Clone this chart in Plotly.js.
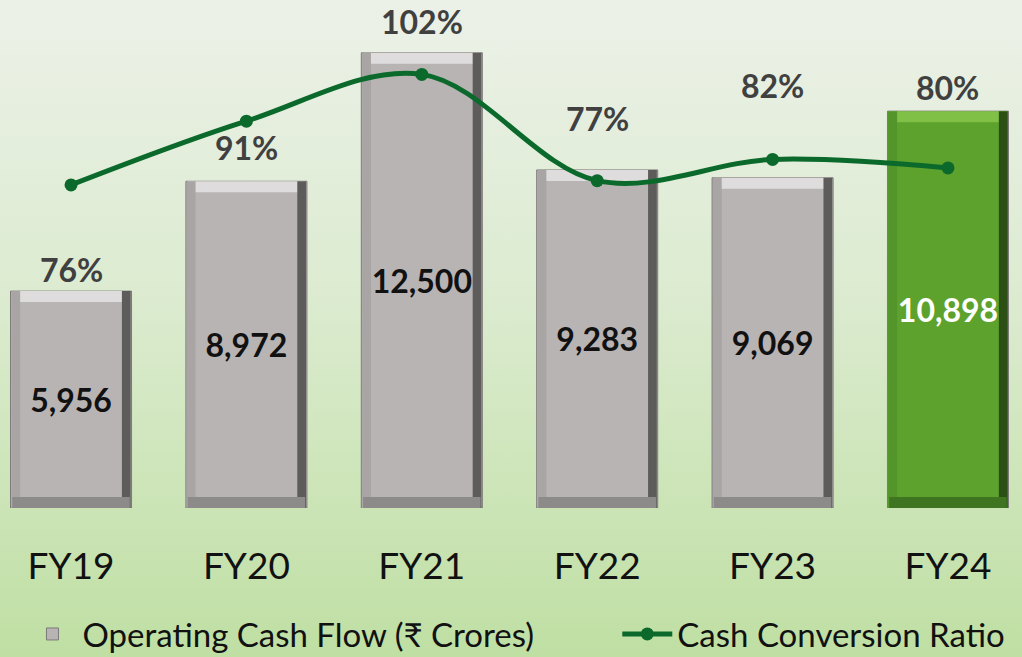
<!DOCTYPE html>
<html>
<head>
<meta charset="utf-8">
<script src="https://cdn.plot.ly/plotly-3.0.1.min.js"></script>
<style>
  html, body { margin:0; padding:0; width:1022px; height:657px; overflow:hidden;
    background: linear-gradient(to bottom, #ecf1e8 0%, #dcebd0 45%, #bfdfa3 100%); }
  #chart { width:1022px; height:657px; }
</style>
</head>
<body>
<div id="chart"></div>
<script>
// ---- data ----
const years = ["FY19", "FY20", "FY21", "FY22", "FY23", "FY24"];
const ocf = [5956, 8972, 12500, 9283, 9069, 10898];
const ocfLabels = ["5,956", "8,972", "12,500", "9,283", "9,069", "10,898"];
const ccr = [76, 91, 102, 77, 82, 80];
const ccrLabels = ["76%", "91%", "102%", "77%", "82%", "80%"];

// ---- styles ----
const faceColors = ["#b8b4b4","#b8b4b4","#b8b4b4","#b8b4b4","#b8b4b4","#5da22c"];
const topColors  = ["#dedcdc","#dedcdc","#dedcdc","#dedcdc","#dedcdc","#80c046"];
const leftColors = ["#a9a5a5","#a9a5a5","#a9a5a5","#a9a5a5","#a9a5a5","#53952a"];
const rightColors= ["#5e5b5b","#5e5b5b","#5e5b5b","#5e5b5b","#5e5b5b","#2b4f14"];
const botColors  = ["#8d8a8a","#8d8a8a","#8d8a8a","#8d8a8a","#8d8a8a","#3f7520"];
const textColors = ["#111111","#111111","#111111","#111111","#111111","#ffffff"];
const labelShift = [22, 34, 31, 51, 92, 24]; // px above bar top
const barW = 0.69;
const yMax = 13950, y2Max = 119.5;
const plotH = 508;
const bev = 11 / plotH * yMax;   // bevel thickness in data units
const sideW = 0.05;

const bevelTop = ocf.map(v => bev);
const bevelTopBase = ocf.map(v => v - bev);
const zeros = ocf.map(v => 0);

const traces = [
  { type:'bar', x:years, y:ocf, width:barW, name:'Operating Cash Flow (₹ Crores)',
    marker:{color:faceColors, line:{color:'#7d7a7a', width:1}},
    text:ocfLabels, textposition:'inside', insidetextanchor:'middle', textangle:0,
    constraintext:'none',
    textfont:{family:'Lato, "Open Sans", sans-serif', size:32, color:textColors, weight:'bold'},
    hoverinfo:'skip', showlegend:true, legend:'legend' },
  { type:'bar', x:years, y:bevelTop, base:bevelTopBase, width:barW-0.02,
    marker:{color:topColors}, hoverinfo:'skip', showlegend:false },
  { type:'bar', x:years, y:ocf, base:zeros, width:sideW, offset:-barW/2+0.005,
    marker:{color:leftColors}, hoverinfo:'skip', showlegend:false },
  { type:'bar', x:years, y:ocf, base:zeros, width:sideW, offset:barW/2-sideW-0.005,
    marker:{color:rightColors}, hoverinfo:'skip', showlegend:false },
  { type:'bar', x:years, y:bevelTop, base:zeros, width:barW-0.02,
    marker:{color:botColors}, hoverinfo:'skip', showlegend:false },
  { type:'scatter', mode:'lines+markers', x:years, y:ccr, yaxis:'y2',
    name:'Cash Conversion Ratio',
    line:{color:'#0b6a2b', width:5, shape:'spline', smoothing:1},
    marker:{color:'#0b6a2b', size:13},
    hoverinfo:'skip', showlegend:true, legend:'legend2' }
];

const annotations = years.map((yr, i) => ({
  x: yr, y: ocf[i], xref:'x', yref:'y', text: ccrLabels[i], showarrow:false,
  yanchor:'middle', yshift: labelShift[i],
  font:{family:'Lato, "Open Sans", sans-serif', size:32, color:'#404040', weight:'bold'}
}));

const legendFont = {family:'Lato, "Open Sans", sans-serif', size:33, color:'#111111'};

const layout = {
  width:1022, height:657,
  margin:{l:0, r:0, t:0, b:657-plotH, pad:0},
  paper_bgcolor:'rgba(0,0,0,0)', plot_bgcolor:'rgba(0,0,0,0)',
  barmode:'overlay', bargap:0.3,
  xaxis:{type:'category', range:[-0.405, 5.422], showgrid:false, zeroline:false,
    showline:false, ticks:'', ticklabelstandoff:33,
    tickfont:{family:'Lato, "Open Sans", sans-serif', size:37, color:'#111111'}},
  yaxis:{range:[0, yMax], visible:false, showgrid:false, zeroline:false},
  yaxis2:{range:[0, y2Max], overlaying:'y', side:'right', visible:false, showgrid:false, zeroline:false},
  legend:{orientation:'h', xref:'container', yref:'container',
    x:0.022, xanchor:'left', y:0.035, yanchor:'middle',
    font:legendFont, itemwidth:50, bgcolor:'rgba(0,0,0,0)'},
  legend2:{orientation:'h', xref:'container', yref:'container',
    x:0.604, xanchor:'left', y:0.035, yanchor:'middle',
    font:legendFont, itemwidth:50, bgcolor:'rgba(0,0,0,0)'},
  annotations: annotations,
  showlegend:true
};

Plotly.newPlot('chart', traces, layout, {displayModeBar:false, staticPlot:true});
</script>
</body>
</html>
